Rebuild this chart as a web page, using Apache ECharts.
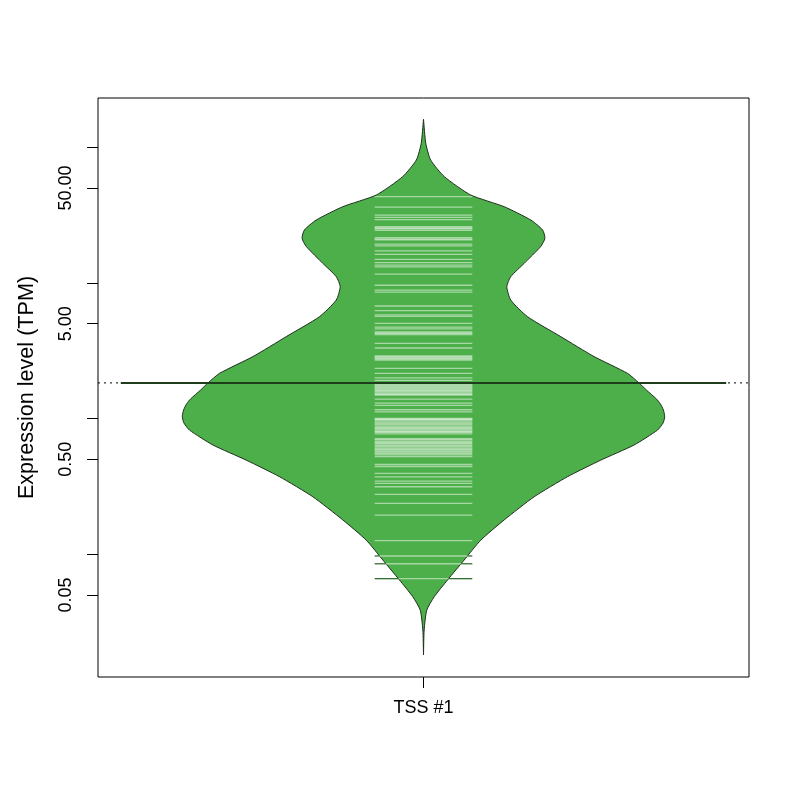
<!DOCTYPE html>
<html><head><meta charset="utf-8">
<script src="https://cdn.jsdelivr.net/npm/echarts@6/dist/echarts.min.js"></script>
<style>html,body{margin:0;padding:0;background:#fff}#c{width:800px;height:800px}</style>
</head><body><div id="c"></div>
<script>
// ---- data ----
const categories = ['TSS #1'];
const yTickValues = [0.05, 0.1, 0.5, 1, 5, 10, 50, 100];
const yLabelValues = [0.05, 0.5, 5, 50];
// bean outline: expression level (TPM) and density half-width (x-axis units)
const beanValues = [0.0181, 0.0276, 0.0387, 0.0486, 0.0646, 0.0906, 0.127, 0.179, 0.265, 0.372, 0.494, 0.638, 0.822, 0.927, 1.03, 1.156, 1.29, 1.39, 1.62, 1.82, 2.15, 2.86, 4.01, 5.62, 7.47, 9.37, 11.1, 13.9, 18.5, 21.3, 24.5, 29.0, 36.4, 44.4, 60.6, 80.4, 106.8, 160.4];
const beanHalfWidth = [0, 0.002, 0.010, 0.033, 0.074, 0.125, 0.176, 0.248, 0.340, 0.442, 0.545, 0.647, 0.719, 0.736, 0.741, 0.737, 0.727, 0.716, 0.685, 0.663, 0.627, 0.524, 0.422, 0.320, 0.268, 0.256, 0.268, 0.309, 0.360, 0.373, 0.366, 0.330, 0.248, 0.145, 0.064, 0.022, 0.007, 0];
// individual observations (bean lines)
const observations = [43.2, 36.2, 31.6, 30.4, 29.2, 25.9, 25.4, 25.1, 24.4, 21.5, 21.0, 20.7, 19.3, 18.7, 17.2, 16.2, 14.9, 14.1, 13.5, 13.1, 11.6, 9.6, 8.85, 8.55, 6.75, 6.23, 5.80, 5.65, 5.03, 4.72, 4.57, 4.34, 4.25, 4.16, 3.58, 3.31, 2.89, 2.84, 2.79, 2.75, 2.70, 2.34, 2.15, 1.99, 1.91, 1.83, 1.80, 1.77, 1.74, 1.71, 1.68, 1.65, 1.62, 1.60, 1.57, 1.54, 1.51, 1.49, 1.39, 1.30, 1.25, 1.16, 1.12, 1.00, 0.99, 0.98, 0.96, 0.94, 0.92, 0.90, 0.88, 0.86, 0.845, 0.83, 0.81, 0.80, 0.79, 0.77, 0.71, 0.70, 0.68, 0.665, 0.655, 0.64, 0.627, 0.615, 0.60, 0.59, 0.576, 0.565, 0.552, 0.54, 0.523, 0.458, 0.443, 0.394, 0.372, 0.346, 0.333, 0.314, 0.276, 0.237, 0.194, 0.126, 0.097, 0.085, 0.066];
const averageValue = 1.83;

// ---- styles ----
const FONT = 'Liberation Sans, Arial, Helvetica, sans-serif';
const FS = 18;
const FS_TITLE = 21.6;
const beanLineHalf = 0.150;
const averageHalf = 0.93;

function beanWidthAt(v) {
  const lv = Math.log10(v);
  for (let i = 0; i < beanValues.length - 1; i++) {
    const a = Math.log10(beanValues[i]), b = Math.log10(beanValues[i + 1]);
    if (lv >= a && lv <= b) {
      const t = (lv - a) / (b - a);
      return beanHalfWidth[i] + t * (beanHalfWidth[i + 1] - beanHalfWidth[i]);
    }
  }
  return 0;
}

function beanRender(params, api) {
  const pts = [];
  for (let i = 0; i < beanValues.length; i++) pts.push(api.coord([-beanHalfWidth[i], beanValues[i]]));
  for (let i = beanValues.length - 1; i >= 0; i--) pts.push(api.coord([beanHalfWidth[i], beanValues[i]]));
  return {
    type: 'polygon',
    shape: { points: pts, smooth: 0.2 },
    style: { fill: '#4daf4a', stroke: '#1e2e1e', lineWidth: 1 }
  };
}

function lineRender(params, api) {
  const v = api.value(1);
  const hw = beanWidthAt(v);
  const inner = Math.min(hw, beanLineHalf);
  const children = [];
  const a = api.coord([-inner, v]), b = api.coord([inner, v]);
  const y = a[1];
  children.push({ type: 'line', shape: { x1: a[0], y1: y, x2: b[0], y2: y },
    style: { stroke: 'rgba(255,255,255,0.5)', lineWidth: 1.3 } });
  if (hw < beanLineHalf) {
    const l0 = api.coord([-beanLineHalf, v]), l1 = api.coord([-hw, v]);
    const r0 = api.coord([hw, v]), r1 = api.coord([beanLineHalf, v]);
    children.push({ type: 'line', shape: { x1: l0[0], y1: y, x2: l1[0], y2: y }, style: { stroke: '#336e33', lineWidth: 1.3 } });
    children.push({ type: 'line', shape: { x1: r0[0], y1: y, x2: r1[0], y2: y }, style: { stroke: '#336e33', lineWidth: 1.3 } });
  }
  return { type: 'group', children };
}

const chart = echarts.init(document.getElementById('c'), null, { renderer: 'canvas' });
chart.setOption({
  animation: false,
  backgroundColor: '#fff',
  grid: { left: 98, right: 51, top: 98, bottom: 123, show: true, borderColor: '#000', borderWidth: 1 },
  xAxis: {
    type: 'value', min: -1, max: 1,
    axisLine: { show: false, onZero: false }, splitLine: { show: false },
    axisTick: { show: true, length: 11, customValues: [0], lineStyle: { color: '#000' } },
    axisLabel: { customValues: [0], formatter: () => categories[0], margin: 22, fontSize: FS, color: '#000', fontFamily: FONT }
  },
  yAxis: {
    type: 'log', logBase: 10, min: 0.01244, max: 230.3,
    axisLine: { show: false, onZero: false }, splitLine: { show: false },
    axisTick: { show: true, length: 11, customValues: yTickValues, lineStyle: { color: '#000' } },
    axisLabel: { customValues: yLabelValues, rotate: 90, margin: 23, fontSize: FS, color: '#000', fontFamily: FONT,
      formatter: v => Number(v).toFixed(2) },
    name: 'Expression level (TPM)', nameLocation: 'middle', nameRotate: 90, nameGap: 60,
    nameTextStyle: { fontSize: FS_TITLE, color: '#000', fontFamily: FONT }
  },
  series: [
    { type: 'line', data: [[-1, averageValue], [1, averageValue]], symbol: 'none', silent: true, z: 1,
      lineStyle: { color: '#000', width: 1, type: [2, 4] } },
    { type: 'custom', renderItem: beanRender, data: [[0, 1]], silent: true, z: 2 },
    { type: 'custom', renderItem: lineRender, data: observations.map(v => [0, v]), silent: true, z: 3 },
    { type: 'line', data: [[-averageHalf, averageValue], [averageHalf, averageValue]], symbol: 'none', silent: true, z: 4,
      lineStyle: { color: '#1d3d1b', width: 2 } }
  ]
});
</script>
</body></html>
